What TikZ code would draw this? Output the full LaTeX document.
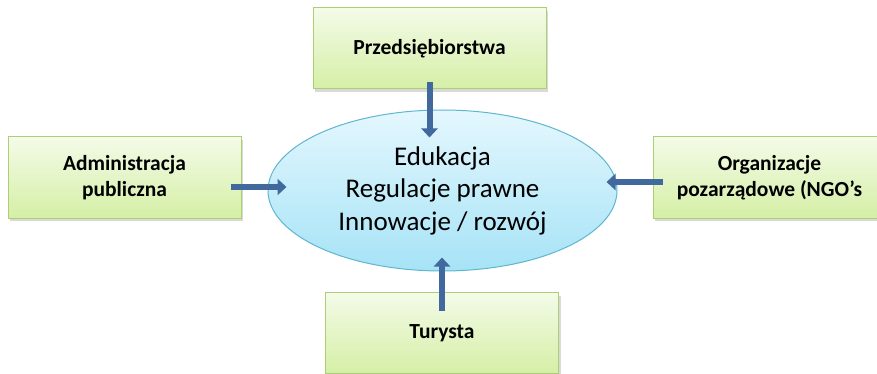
\documentclass[tikz,border=0pt]{standalone}
\usepackage{fontspec}
\setmainfont{Carlito}
\usetikzlibrary{arrows.meta,shadows,shapes.geometric}

\definecolor{boxtop}{HTML}{F4FBE8}
\definecolor{boxbot}{HTML}{D5EFA6}
\definecolor{boxline}{HTML}{ABCF72}
\definecolor{elltop}{HTML}{E4F7FE}
\definecolor{ellbot}{HTML}{A6E3F6}
\definecolor{ellline}{HTML}{5FB6CF}
\definecolor{arrblue}{HTML}{41699E}

\begin{document}
\begin{tikzpicture}[x=1pt,y=-1pt,
  actor/.style={draw=boxline,line width=1pt,top color=boxtop,bottom color=boxbot,
    minimum width=233pt,minimum height=81pt,inner sep=0pt,align=center,
    font=\fontsize{21.5}{26}\selectfont\bfseries,
    drop shadow={shadow xshift=2pt,shadow yshift=-3pt,opacity=0.3}},
  core/.style={ellipse,draw=ellline,line width=1pt,top color=elltop,bottom color=ellbot,
    minimum width=349pt,minimum height=161pt,inner sep=0pt,align=center,
    font=\fontsize{27}{32.5}\selectfont},
  push/.style={draw=arrblue,line width=6pt,-{Triangle[length=9pt,width=16pt]}}]
  \clip (0,0) rectangle (877,374);
  \node[core] (ell) at (442.5,190.5) {Edukacja\\Regulacje prawne\\Innowacje / rozwój};
  \node[actor] (firm) at (429.5,48.5) {Przedsiębiorstwa};
  \node[actor] (adm) at (124.5,177.5) {Administracja\\publiczna};
  \node[actor] (ngo) at (769.5,177.5) {Organizacje\\pozarządowe (NGO’s};
  \node[actor] (tur) at (442,333) {Turysta};
  %arrows into the ellipse:
  \draw[push] ([shift={(0,-7)}]firm.south) -- ([shift={(0,28)}]firm.south |- ell.north);
  \draw[push] ([shift={(-11,9.5)}]adm.east) -- ([shift={(19,9.5)}]adm.east -| ell.west);
  \draw[push] ([shift={(10,4.5)}]ngo.west) -- ([shift={(-11,4.5)}]ngo.west -| ell.east);
  \draw[push] ([shift={(0,19)}]tur.north) -- ([shift={(0,-14)}]tur.north |- ell.south);
\end{tikzpicture}
\end{document}
